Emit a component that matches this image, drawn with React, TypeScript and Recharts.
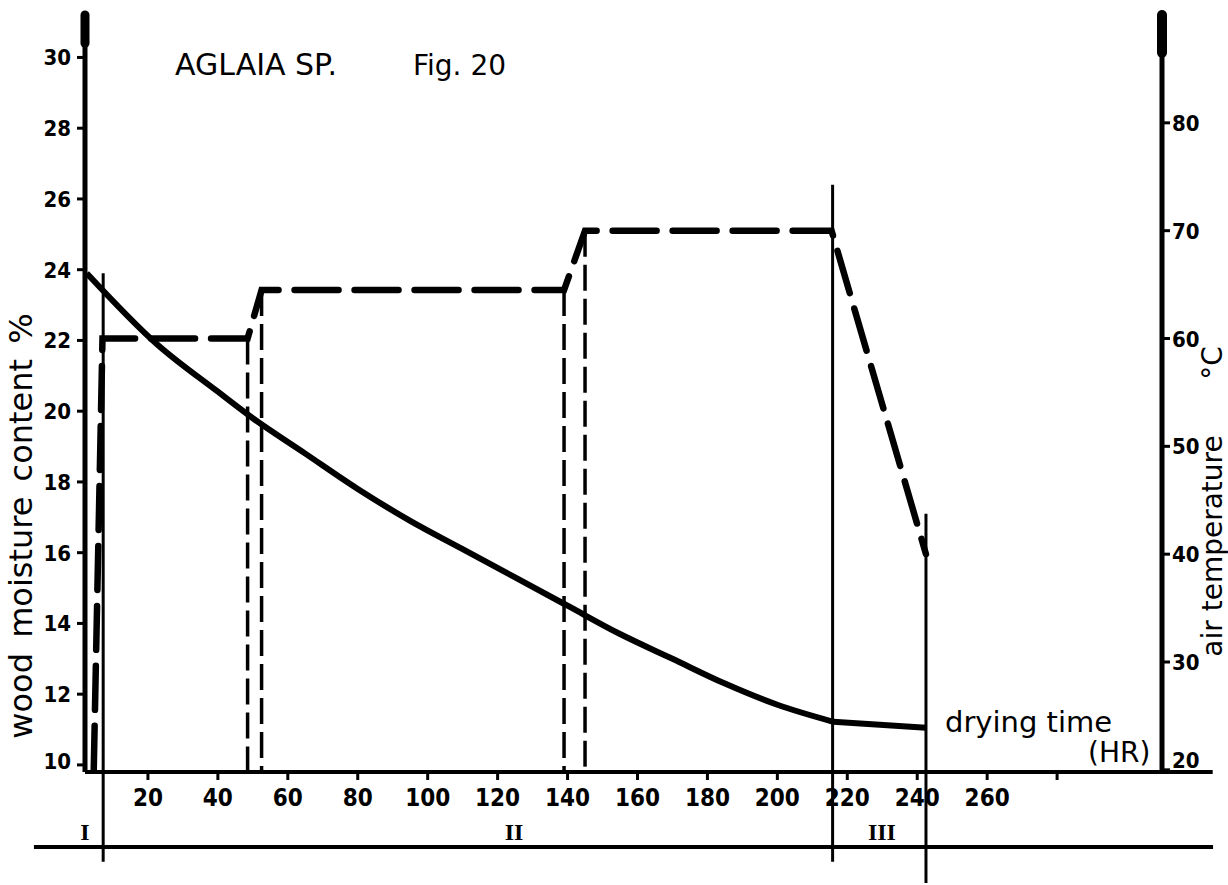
import { LineChart, Line, XAxis, YAxis, ReferenceLine, ReferenceDot } from "recharts";

// wood moisture content (%)
const moistureHours = [2.5, 22.5, 40, 50, 65, 80, 95, 110, 125, 140, 155, 170, 185, 200, 216];
const moistureValues = [23.9, 21.9, 20.55, 19.8, 18.8, 17.8, 16.9, 16.1, 15.3, 14.5, 13.7, 13.0, 12.3, 11.7, 11.22];
// the short straight run at the end of the curve
const finalHours = [216, 242.5];
const finalValues = [11.22, 11.05];

// air temperature (°C), dashed schedule
const tempHours = [4.5, 7, 48.5, 52.5, 139, 145, 215.5, 242.5];
const tempValues = [20, 60, 60, 64.5, 64.5, 70, 70, 40];

// thin dashed drop lines from the schedule steps
const guideHours = [48.5, 52.5, 139, 145];
const guideTops = [60, 64.5, 64.5, 70];

// stage boundaries (solid), in moisture-axis units
const stageHours = [7.2, 215.8, 242.5];
const stageTops = [23.9, 26.4, 17.1];
const stageBottoms = [7.26, 7.26, 6.66];
const stageLabels = ["I", "II", "III"];
const stageLabelHours = [2, 124.7, 229.9];

const moistureTicks = [10, 12, 14, 16, 18, 20, 22, 24, 26, 28, 30];
const tempTicks = [20, 30, 40, 50, 60, 70, 80];
const hourTicks = [20, 40, 60, 80, 100, 120, 140, 160, 180, 200, 220, 240, 260, 280];
const hourTickLabels = ["20", "40", "60", "80", "100", "120", "140", "160", "180", "200", "220", "240", "260", ""];

const moistureData = moistureHours.map((hr, i) => ({ hr, v: moistureValues[i] }));
const finalData = finalHours.map((hr, i) => ({ hr, v: finalValues[i] }));
const tempData = tempHours.map((hr, i) => ({ hr, t: tempValues[i] }));

const numFont = "'Liberation Sans Narrow', 'DejaVu Sans Condensed', 'Liberation Sans', sans-serif";
const textFont = "'DejaVu Sans', sans-serif";

const HourTick = ({ x, y, payload }: any) => {
  const idx = hourTicks.indexOf(payload.value);
  return (
    <text x={x} y={y} dy={24} textAnchor="middle" fontFamily={numFont} fontWeight="bold" fontSize={24} fill="#000">
      {idx >= 0 ? hourTickLabels[idx] : ""}
    </text>
  );
};

const LeftTick = ({ x, y, payload }: any) => (
  <text x={x - 4} y={y} dy={payload.value === 10 ? 4 : 8} textAnchor="end" fontFamily={numFont} fontWeight="bold" fontSize={22} fill="#000">
    {payload.value}
  </text>
);

// the bottom label sits just above the time axis in the original
const RightTick = ({ x, y, payload }: any) => (
  <text x={x} y={y} dy={payload.value === 20 ? -2 : 8} textAnchor="start" fontFamily={numFont} fontWeight="bold" fontSize={22} fill="#000">
    {payload.value}
  </text>
);

const StageLabel = (text: string) => ({ viewBox }: any) => (
  <text x={viewBox.x} y={viewBox.y} dy={8} textAnchor="middle" fontFamily="'Liberation Serif', serif" fontWeight="bold" fontSize={24} fill="#000">
    {text}
  </text>
);

const App = () => {
  return (
    <div style={{ position: "absolute", left: 0, top: 0, width: 1228, height: 885, background: "#fff" }}>
      <LineChart width={1228} height={885} margin={{ top: 15, right: 0, bottom: 83, left: 0 }}>
        <XAxis
          xAxisId="h"
          dataKey="hr"
          type="number"
          domain={[2, 310]}
          allowDataOverflow
          ticks={hourTicks}
          tick={<HourTick />}
          tickSize={8}
          height={30}
          axisLine={{ stroke: "#000", strokeWidth: 4 }}
          tickLine={{ stroke: "#000", strokeWidth: 3 }}
          interval={0}
        />
        <YAxis
          yAxisId="m"
          type="number"
          domain={[9.8, 31.2]}
          allowDataOverflow
          ticks={moistureTicks}
          tick={<LeftTick />}
          tickSize={8}
          width={85}
          axisLine={{ stroke: "#000", strokeWidth: 5 }}
          tickLine={{ stroke: "#000", strokeWidth: 3 }}
          interval={0}
        />
        <YAxis
          yAxisId="t"
          orientation="right"
          type="number"
          domain={[19.8, 90]}
          allowDataOverflow
          ticks={tempTicks}
          tick={<RightTick />}
          tickSize={8}
          width={66}
          axisLine={{ stroke: "#000", strokeWidth: 5 }}
          tickLine={{ stroke: "#000", strokeWidth: 3 }}
          interval={0}
        />

        {/* axis arrow tips and the x-axis run past the right axis */}
        <ReferenceLine xAxisId="h" yAxisId="m" segment={[{ x: 2, y: 30.4 }, { x: 2, y: 31.2 }]} stroke="#000" strokeWidth={9} strokeLinecap="round" ifOverflow="visible" />
        <ReferenceLine xAxisId="h" yAxisId="t" segment={[{ x: 310, y: 86.5 }, { x: 310, y: 90 }]} stroke="#000" strokeWidth={10} strokeLinecap="round" ifOverflow="visible" />
        <ReferenceLine xAxisId="h" yAxisId="m" segment={[{ x: 310, y: 9.8 }, { x: 324.5, y: 9.8 }]} stroke="#000" strokeWidth={4} ifOverflow="visible" />

        {/* stage axis below the time axis */}
        <ReferenceLine xAxisId="h" yAxisId="m" segment={[{ x: -12.6, y: 7.68 }, { x: 324.6, y: 7.68 }]} stroke="#000" strokeWidth={4} ifOverflow="visible" />

        {stageHours.map((hr, i) => (
          <ReferenceLine
            key={"s" + i}
            xAxisId="h"
            yAxisId="m"
            segment={[{ x: hr, y: stageTops[i] }, { x: hr, y: stageBottoms[i] }]}
            stroke="#000"
            strokeWidth={3}
            ifOverflow="visible"
          />
        ))}

        {guideHours.map((hr, i) => (
          <ReferenceLine
            key={"g" + i}
            xAxisId="h"
            yAxisId="t"
            segment={[{ x: hr, y: guideTops[i] }, { x: hr, y: 19.8 }]}
            stroke="#000"
            strokeWidth={3.5}
            strokeDasharray="26 8"
            ifOverflow="visible"
          />
        ))}

        {stageLabels.map((s, i) => (
          <ReferenceDot
            key={"l" + i}
            xAxisId="h"
            yAxisId="m"
            x={stageLabelHours[i]}
            y={8.1}
            r={0}
            fill="none"
            stroke="none"
            ifOverflow="visible"
            label={StageLabel(s)}
          />
        ))}

        <Line
          xAxisId="h"
          yAxisId="t"
          data={tempData}
          dataKey="t"
          type="linear"
          stroke="#000"
          strokeWidth={6.5}
          strokeDasharray="44 16"
          strokeLinecap="round"
          dot={false}
          activeDot={false}
          isAnimationActive={false}
        />
        <Line
          xAxisId="h"
          yAxisId="m"
          data={moistureData}
          dataKey="v"
          type="monotone"
          stroke="#000"
          strokeWidth={6}
          strokeLinejoin="round"
          dot={false}
          activeDot={false}
          isAnimationActive={false}
        />
        <Line
          xAxisId="h"
          yAxisId="m"
          data={finalData}
          dataKey="v"
          type="linear"
          stroke="#000"
          strokeWidth={6}
          dot={false}
          activeDot={false}
          isAnimationActive={false}
        />
      </LineChart>

      <svg width={1228} height={885} style={{ position: "absolute", left: 0, top: 0, pointerEvents: "none" }}>
        <text x={175} y={75} fontFamily={textFont} fontSize={30} fill="#000">AGLAIA SP.</text>
        <text x={413} y={75} fontFamily={textFont} fontSize={28} fill="#000">Fig. 20</text>
        <text transform="translate(32,526) rotate(-90)" textAnchor="middle" fontFamily={textFont} fontSize={32} wordSpacing={5} fill="#000">
          wood moisture content %
        </text>
        <text transform="translate(1222,546) rotate(-90)" textAnchor="middle" fontFamily={textFont} fontSize={28} fill="#000">
          air temperature
        </text>
        <text transform="translate(1222,363) rotate(-90)" textAnchor="middle" fontFamily={textFont} fontSize={28} fill="#000">
          °C
        </text>
        <text x={945} y={732} fontFamily={textFont} fontSize={29} fill="#000">drying time</text>
        <text x={1088} y={762} fontFamily={textFont} fontSize={28} fill="#000">(HR)</text>
      </svg>
    </div>
  );
};

export default App;
